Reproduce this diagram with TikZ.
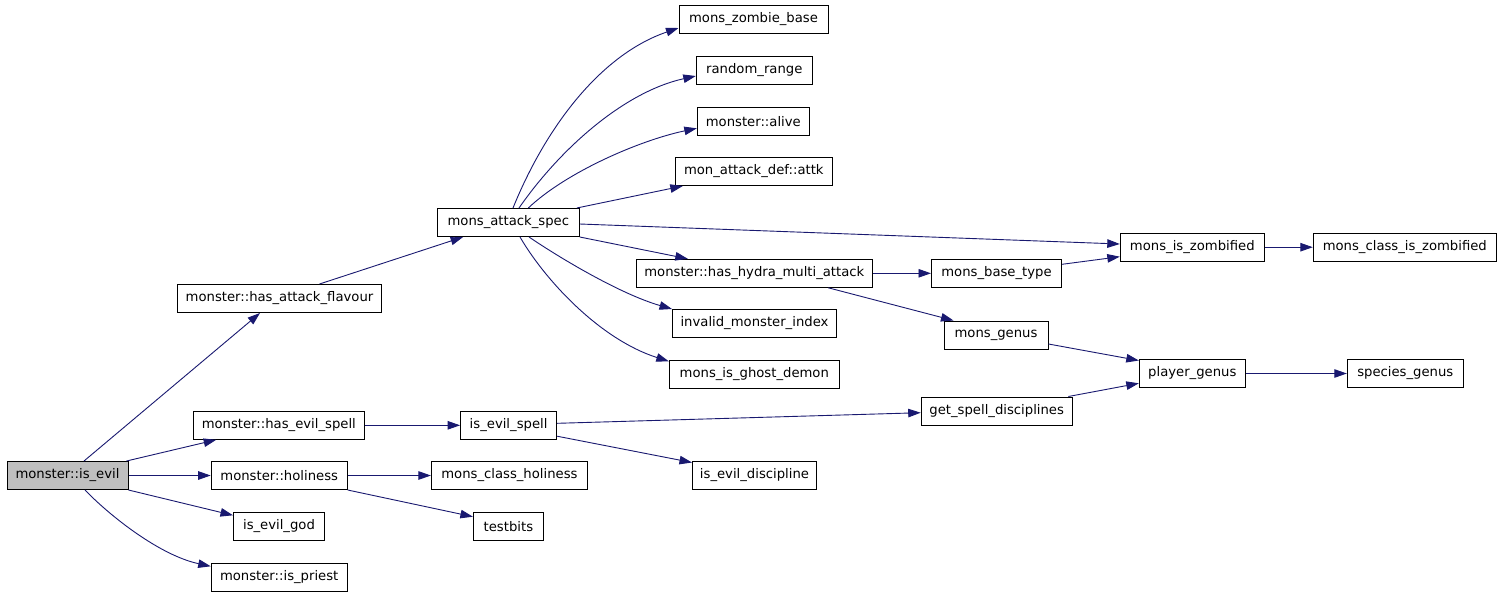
\documentclass[tikz,border=0pt]{standalone}
\usepackage{fontspec}
\setmainfont{DejaVu Sans}
\usetikzlibrary{arrows.meta}
\definecolor{edgeblue}{RGB}{25,25,112}
\definecolor{rootgray}{RGB}{191,191,191}
\begin{document}
\begin{tikzpicture}[x=1pt,y=-1pt,
  fn/.style={draw=black, line width=1pt, minimum height=28pt, inner sep=0pt,
    font=\fontsize{13.2}{15}\selectfont, anchor=center},
  call/.style={draw=edgeblue, line width=0.9pt, -{Triangle[length=12.5pt,width=8.5pt,fill=edgeblue]}}]
\fill[white] (0,0) rectangle (1501,595);
\useasboundingbox (0,0) rectangle (1501,595);

% nodes
\node[fn, fill=rootgray, minimum width=121pt] (isevil) at (67.5,475.5) {monster::is\_evil};
\node[fn, minimum width=204pt] (hasattack) at (279.5,298.5) {monster::has\_attack\_flavour};
\node[fn, minimum width=171pt] (hasevilspell) at (278.8,425.3) {monster::has\_evil\_spell};
\node[fn, minimum width=136pt] (holiness) at (279.2,475.5) {monster::holiness};
\node[fn, minimum width=91pt] (isevilgod) at (279,526.3) {is\_evil\_god};
\node[fn, minimum width=136pt] (ispriest) at (279.2,577.3) {monster::is\_priest};
\node[fn, minimum width=142pt] (attackspec) at (508.3,222.5) {mons\_attack\_spec};
\node[fn, minimum width=96pt] (isevilspell) at (508.6,425.3) {is\_evil\_spell};
\node[fn, minimum width=156pt] (classholiness) at (509.4,475.5) {mons\_class\_holiness};
\node[fn, minimum width=70pt] (testbits) at (508.4,526.3) {testbits};
\node[fn, minimum width=149pt] (zombiebase) at (753.5,19.5) {mons\_zombie\_base};
\node[fn, minimum width=116pt] (randomrange) at (754.3,70.5) {random\_range};
\node[fn, minimum width=112pt] (alive) at (753.3,121.5) {monster::alive};
\node[fn, minimum width=157pt] (attk) at (753.8,171.5) {mon\_attack\_def::attk};
\node[fn, minimum width=236pt] (hydra) at (754.3,273.3) {monster::has\_hydra\_multi\_attack};
\node[fn, minimum width=164pt] (invalid) at (754.5,323.5) {invalid\_monster\_index};
\node[fn, minimum width=170pt] (ghost) at (754.3,374.3) {mons\_is\_ghost\_demon};
\node[fn, minimum width=124pt] (evildisc) at (754.5,475.5) {is\_evil\_discipline};
\node[fn, minimum width=144pt] (zombified) at (1192.3,247.2) {mons\_is\_zombified};
\node[fn, minimum width=183pt] (classzombified) at (1404.8,247.2) {mons\_class\_is\_zombified};
\node[fn, minimum width=130pt] (basetype) at (996.5,273.3) {mons\_base\_type};
\node[fn, minimum width=104pt] (genus) at (996,335) {mons\_genus};
\node[fn, minimum width=106pt] (playergenus) at (1192.3,373.5) {player\_genus};
\node[fn, minimum width=116pt] (speciesgenus) at (1405.3,373.5) {species\_genus};
\node[fn, minimum width=151pt] (spelldisc) at (996.7,411) {get\_spell\_disciplines};

% edges from monster::is_evil
\draw[call] ([xshift=16.5pt]isevil.north) -- ([xshift=-19.5pt]hasattack.south);
\draw[call] ([xshift=-2pt]isevil.north east) -- ([xshift=-62.6pt]hasevilspell.south);
\draw[call] (isevil.east) -- (holiness.west);
\draw[call] (isevil.south east) -- ([yshift=11pt]isevilgod.west);
\draw[call] ([xshift=17.5pt]isevil.south) .. controls +(25,26) and +(-51,-11) .. ([yshift=11pt]ispriest.west);

% second column
\draw[call] ([xshift=40pt]hasattack.north) -- ([xshift=-45.2pt]attackspec.south);
\draw[call] (hasevilspell.east) -- (isevilspell.west);
\draw[call] (holiness.east) -- (classholiness.west);
\draw[call] (holiness.south east) -- ([yshift=9.6pt]testbits.west);

% from mons_attack_spec
\draw[call] ([xshift=4.7pt]attackspec.north) .. controls +(32,-79) and +(-79,27) .. ([yshift=-8.5pt]zombiebase.west);
\draw[call] ([xshift=10.7pt]attackspec.north) .. controls +(41,-59) and +(-72,16) .. ([yshift=-5.5pt]randomrange.west);
\draw[call] ([xshift=20pt]attackspec.north) .. controls +(38,-36) and +(-57,12) .. ([yshift=-6.8pt]alive.west);
\draw[call] ([xshift=-3pt]attackspec.north east) -- ([xshift=8pt]attk.south west);
\draw[call] ([yshift=-1.5pt]attackspec.east) -- ([yshift=3.2pt]zombified.west);
\draw[call] (attackspec.south east) -- ([xshift=52pt]hydra.north west);
\draw[call] ([xshift=20.7pt]attackspec.south) .. controls +(31,21) and +(-52,-15) .. (invalid.north west);
\draw[call] ([xshift=11.7pt]attackspec.south) .. controls +(25,43) and +(-69,-22) .. ([yshift=-1.5pt]ghost.north west);

% third column onwards
\draw[call] (hydra.east) -- (basetype.west);
\draw[call] ([xshift=74pt]hydra.south) -- ([xshift=10pt]genus.north west);
\draw[call] ([yshift=9pt]basetype.east) -- ([yshift=-9.5pt]zombified.west);
\draw[call] (zombified.east) -- (classzombified.west);
\draw[call] ([yshift=-9pt]genus.east) -- ([yshift=-1.5pt]playergenus.north west);
\draw[call] (playergenus.east) -- (speciesgenus.west);
\draw[call] ([xshift=-4.4pt]spelldisc.north east) -- ([yshift=-9.8pt]playergenus.west);
\draw[call] ([yshift=2pt]isevilspell.east) -- ([yshift=-1.7pt]spelldisc.west);
\draw[call] ([yshift=3.6pt]isevilspell.south east) -- ([yshift=-1.5pt]evildisc.north west);
\end{tikzpicture}
\end{document}
